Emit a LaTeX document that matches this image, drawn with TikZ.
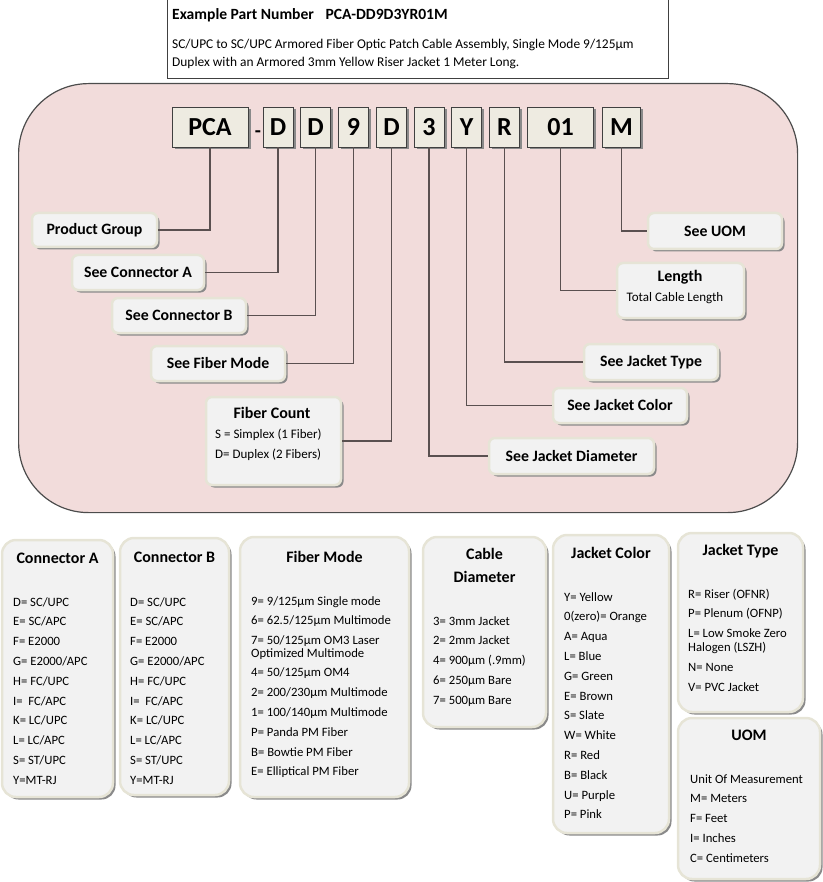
\documentclass[tikz,border=0pt]{standalone}
\usepackage{fontspec}
\setmainfont{Carlito}
\usetikzlibrary{shadows}
\definecolor{pinkbg}{HTML}{F2DCDB}
\definecolor{codefill}{HTML}{EEEBE1}
\definecolor{boxfill}{HTML}{F2F2F2}
\definecolor{boxedge}{HTML}{E6E4D6}
\definecolor{linec}{HTML}{5A5050}
\definecolor{shadowc}{HTML}{8A8A8A}
\newcommand{\itemlst}[1]{\begin{tabular}[t]{@{}l@{}}#1\end{tabular}}
\begin{document}
\begin{tikzpicture}[x=1pt,y=-1pt,
  codebox/.style={draw=black!75, fill=codefill, line width=0.9pt, minimum height=40pt, inner sep=0pt,
    font=\fontsize{26}{28}\selectfont\bfseries,
    drop shadow={shadow xshift=2.5pt,shadow yshift=-2.5pt,fill=shadowc,opacity=1}},
  lblbox/.style={rounded corners=6pt, fill=boxfill, draw=boxedge, line width=2.5pt, inner sep=0pt,
    font=\fontsize{15.8}{17}\selectfont\bfseries,
    drop shadow={shadow xshift=2.5pt,shadow yshift=-2.5pt,fill=shadowc,opacity=1}},
  tblbox/.style={rounded corners=14pt, fill=boxfill, draw=boxedge, line width=2.5pt, inner sep=0pt,
    drop shadow={shadow xshift=2.5pt,shadow yshift=-2.5pt,fill=shadowc,opacity=1}},
  ttl/.style={font=\fontsize{16}{23}\selectfont\bfseries, inner sep=0pt, align=center},
  items/.style={font=\fontsize{12.7}{19.8}\selectfont, inner sep=0pt, anchor=base west},
  conn/.style={draw=linec, line width=1.2pt},
]
\useasboundingbox (0,0) rectangle (822,882);
% header
\node[draw=black!75, line width=0.9pt, fill=white, minimum width=501pt, minimum height=79pt, anchor=north west, inner sep=0pt] (hdr) at (167,-1) {};
\node[anchor=west, inner sep=0pt, font=\fontsize{15.6}{17}\selectfont\bfseries] (hdrt) at (172,15) {Example Part Number\hspace{8pt} PCA-DD9D3YR01M};
\node[anchor=base west, inner sep=0pt, font=\fontsize{13.4}{18}\selectfont] (hdrd) at (172,48.5) {\itemlst{SC/UPC to SC/UPC Armored Fiber Optic Patch Cable Assembly, Single Mode 9/125µm\\Duplex with an Armored 3mm Yellow Riser Jacket 1 Meter Long.}};
% pink panel
\node[draw=black!70, line width=1.2pt, fill=pinkbg, rounded corners=70pt, minimum width=779pt, minimum height=429pt, anchor=north west, inner sep=0pt] (panel) at (18,83) {};
% code boxes
\node[codebox, minimum width=76pt] (pca) at (210,127) {PCA};
\node[font=\fontsize{20}{22}\selectfont\bfseries, inner sep=0pt] (dash) at (258,134) {-};
\node[codebox, minimum width=30pt] (ca) at (278,127) {D};
\node[codebox, minimum width=30pt] (cb) at (315.5,127) {D};
\node[codebox, minimum width=30pt] (fm) at (353.5,127) {9};
\node[codebox, minimum width=30pt] (fc) at (391.5,127) {D};
\node[codebox, minimum width=30pt] (jd) at (429,127) {3};
\node[codebox, minimum width=30pt] (jc) at (466.5,127) {Y};
\node[codebox, minimum width=30pt] (jt) at (504.5,127) {R};
\node[codebox, minimum width=66pt] (len) at (560.5,127) {01};
\node[codebox, minimum width=38pt] (uom) at (621.5,127) {M};
% label boxes
\node[lblbox, minimum width=125pt, minimum height=34pt] (lpg) at (94.5,230) {Product Group};
\node[lblbox, minimum width=132pt, minimum height=35pt] (lca) at (138,272.5) {See Connector A};
\node[lblbox, minimum width=134pt, minimum height=35pt] (lcb) at (179,315.5) {See Connector B};
\node[lblbox, minimum width=134pt, minimum height=35pt] (lfm) at (218,363.5) {See Fiber Mode};
\node[lblbox, minimum width=135pt, minimum height=88pt] (lfc) at (273.5,441) {};
\node[ttl] (lfct) at (272,413) {Fiber Count};
\node[items, font=\fontsize{13}{20}\selectfont] (lfci) at (215,438.5) {\itemlst{S = Simplex (1 Fiber)\\D= Duplex (2 Fibers)}};
\node[lblbox, minimum width=134pt, minimum height=36pt] (luom) at (715,231) {See UOM};
\node[lblbox, minimum width=127pt, minimum height=55pt] (llen) at (680.5,290.5) {};
\node[ttl] (llent) at (680,277) {Length};
\node[font=\fontsize{13}{14}\selectfont, inner sep=0pt] (llend) at (675,298) {Total Cable Length};
\node[lblbox, minimum width=134pt, minimum height=36pt] (ljt) at (651,362) {See Jacket Type};
\node[lblbox, minimum width=134pt, minimum height=35pt] (ljc) at (620,405.5) {See Jacket Color};
\node[lblbox, minimum width=165pt, minimum height=36pt] (ljd) at (571.5,456) {See Jacket Diameter};
% connectors
\draw[conn] (pca.south) |- (lpg.east);
\draw[conn] (ca.south) |- (lca.east);
\draw[conn] (cb.south) |- (lcb.east);
\draw[conn] (fm.south) |- (lfm.east);
\draw[conn] (fc.south) |- (lfc.east);
\draw[conn] (uom.south) |- (luom.west);
\draw[conn] (len.south) |- (llen.west);
\draw[conn] (jt.south) |- (ljt.west);
\draw[conn] (jc.south) |- (ljc.west);
\draw[conn] (jd.south) |- (ljd.west);
% tables
\node[tblbox, minimum width=111pt, minimum height=257pt] (ta) at (57.5,668.5) {};
\node[ttl] (tat) at (57.5,558) {Connector A};
\node[items] (tai) at (13,606) {\itemlst{D= SC/UPC\\E= SC/APC\\F= E2000\\G= E2000/APC\\H= FC/UPC\\I=\ \ FC/APC\\K= LC/UPC\\L= LC/APC\\S= ST/UPC\\Y=MT-RJ}};
\node[tblbox, minimum width=109pt, minimum height=257pt] (tb) at (174.5,666.5) {};
\node[ttl] (tbt) at (174.5,557) {Connector B};
\node[items] (tbi) at (130,606) {\itemlst{D= SC/UPC\\E= SC/APC\\F= E2000\\G= E2000/APC\\H= FC/UPC\\I=\ \ FC/APC\\K= LC/UPC\\L= LC/APC\\S= ST/UPC\\Y=MT-RJ}};
\node[tblbox, minimum width=169pt, minimum height=260pt] (tfm) at (324.5,667) {};
\node[ttl] (tfmt) at (324.5,557) {Fiber Mode};
\node[items] (tfmi) at (251,605) {\itemlst{9= 9/125µm Single mode\\6= 62.5/125µm Multimode\\7= 50/125µm OM3 Laser\\[-7.3pt]Optimized Multimode\\4= 50/125µm OM4\\2= 200/230µm Multimode\\1= 100/140µm Multimode\\P= Panda PM Fiber\\B= Bowtie PM Fiber\\E= Elliptical PM Fiber}};
\node[tblbox, minimum width=123pt, minimum height=190pt] (tcd) at (484.5,632) {};
\node[ttl] (tcdt) at (484.5,565.5) {Cable\\Diameter};
\node[items] (tcdi) at (433,625) {\itemlst{3= 3mm Jacket\\2= 2mm Jacket\\4= 900µm (.9mm)\\6= 250µm Bare\\7= 500µm Bare}};
\node[tblbox, minimum width=116pt, minimum height=298pt] (tjc) at (611,684) {};
\node[ttl] (tjct) at (611,553) {Jacket Color};
\node[items] (tjci) at (564,601) {\itemlst{Y= Yellow\\0(zero)= Orange\\A= Aqua\\L= Blue\\G= Green\\E= Brown\\S= Slate\\W= White\\R= Red\\B= Black\\U= Purple\\P= Pink}};
\node[tblbox, minimum width=125pt, minimum height=179pt] (tjt) at (740.5,622.5) {};
\node[ttl] (tjtt) at (740.5,551) {Jacket Type};
\node[items] (tjti) at (688,598) {\itemlst{R= Riser (OFNR)\\P= Plenum (OFNP)\\L= Low Smoke Zero\\[-6pt]Halogen (LSZH)\\N= None\\V= PVC Jacket}};
\node[tblbox, minimum width=142pt, minimum height=161pt] (tu) at (749,798.5) {};
\node[ttl] (tut) at (749,735) {UOM};
\node[items] (tui) at (690,783) {\itemlst{Unit Of Measurement\\M= Meters\\F= Feet\\I= Inches\\C= Centimeters}};
\end{tikzpicture}
\end{document}
